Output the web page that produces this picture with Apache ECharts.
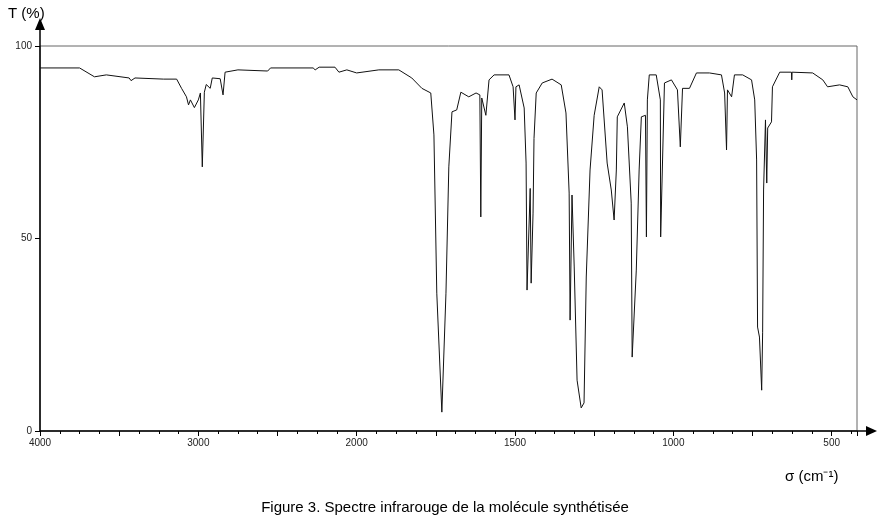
<!DOCTYPE html>
<html><head><meta charset="utf-8">
<script src="https://cdn.jsdelivr.net/npm/echarts@6/dist/echarts.min.js"></script>
<style>html,body{margin:0;padding:0;background:#fff}#c{width:890px;height:525px}</style>
</head><body><div id="c"></div>
<script>
// wavenumbers (cm-1) and transmittance (%)
const wavenumbers = [4000,3750,3656,3581,3437,3425,3400,3219,3137,3106,3075,3062,3050,3025,3000,2987,2975,2969,2962,2950,2925,2912,2862,2844,2831,2750,2562,2544,2275,2262,2237,2137,2112,2062,2000,
1930,1867,1826,1794,1766,1756,1747,1731,1718,1709,1699,1684,1671,1646,1623,1611,1608,1605,1592,1582,1566,1519,1506,1500,1497,1487,1471,1465,1462,1452,1449,1443,1440,1433,1414,1383,1354,1339,1329,1326,1320,1313,1304,1291,1282,1275,1263,1250,1234,1225,1209,1196,1187,1180,1177,1155,1145,1133,1130,1117,1108,1101,1088,1085,1082,1076,1054,1041,1040,1028,1006,987,978,971,949,927,
886,848,838,832,829,816,807,781,753,743,737,734,728,721,718,715,709,705,702,690,687,664,627,626,625,560,528,513,475,449,433,420];
const transmittance = [94.3,94.3,92,92.5,91.7,91,91.7,91.4,91.4,89,86.8,84.7,86,84,86,87.8,68.6,77.4,88,90,89,91.7,91.5,87.3,93.2,93.8,93.5,94.3,94.3,93.8,94.5,94.5,93.2,93.8,93,
93.8,93.8,91.7,89,87.8,76.9,35.8,4.9,35.8,68.6,82.9,83.4,88,86.8,87.8,87.3,55.6,86.5,82,91.2,92.5,92.5,89.4,80.8,89.4,89.9,83.9,69.6,36.6,63,38.4,56.6,76,87.8,90.4,91.4,89.9,82.6,61.8,28.8,61.3,42.6,13.2,6,7.3,40,67.8,82,89.4,88.6,69.6,62.6,54.8,67.8,81.6,85.2,79,59.2,19.2,41.8,67.8,81.6,82,50.4,86,92.5,92.5,86,50.4,90.4,91.2,88.6,73.8,89,89,93,
93,92.5,87.8,73,88.6,86.8,92.5,92.5,91.2,86,70.4,27,24.4,10.6,25.5,62.6,80.8,64.4,78.7,80.3,89.4,93.2,93.2,91.2,93.2,93,91.2,89.4,89.9,89.4,86.8,86];
const xTickLabels = ['4000','3000','2000','1500','1000','500'];
const yTickLabels = ['0','50','100'];

// scale change at 2000 cm-1 (expanded x2 below 2000)
const toU = w => w >= 2000 ? 4000 - w : 2000 + (2000 - w) * 2;
const fromU = u => u <= 2000 ? 4000 - u : 2000 - (u - 2000) / 2;
const data = wavenumbers.map((w, i) => [toU(w), transmittance[i]]);

const chart = echarts.init(document.getElementById('c'));
chart.setOption({
  animation: false,
  grid: {left: 40, right: 33, top: 46, bottom: 94, show: true, borderColor: '#666', borderWidth: 1},
  xAxis: {type: 'value', min: 0, max: toU(420), interval: 500,
    axisLine: {show: false}, splitLine: {show: false},
    axisTick: {show: true, length: 5, lineStyle: {color: '#000'}},
    minorTick: {show: true, splitNumber: 4, length: 3, lineStyle: {color: '#000'}},
    axisLabel: {fontSize: 10, color: '#222', fontFamily: 'Liberation Sans', margin: 7,
      formatter: v => { const s = String(Math.round(fromU(v))); return (v % 1000 === 0 && xTickLabels.includes(s)) ? s : ''; }}},
  yAxis: {type: 'value', min: 0, max: 100, interval: 50,
    axisLine: {show: false}, splitLine: {show: false},
    axisTick: {show: true, length: 5, inside: false, lineStyle: {color: '#000'}},
    axisLabel: {fontSize: 10, color: '#222', fontFamily: 'Liberation Sans', margin: 8,
      formatter: v => yTickLabels.includes(String(v)) ? String(v) : ''}},
  series: [{type: 'line', data: data, showSymbol: false, symbol: 'none',
    lineStyle: {color: '#111', width: 1}}],
  graphic: [
    {type: 'line', shape: {x1: 40, y1: 431, x2: 40, y2: 26}, style: {stroke: '#000', lineWidth: 1.5}},
    {type: 'polygon', shape: {points: [[35, 30], [45, 30], [40, 18]]}, style: {fill: '#000'}},
    {type: 'line', shape: {x1: 40, y1: 431, x2: 868, y2: 431}, style: {stroke: '#000', lineWidth: 1.5}},
    {type: 'polygon', shape: {points: [[866, 426], [866, 436], [877, 431]]}, style: {fill: '#000'}},
    {type: 'text', left: 8, top: 6, style: {text: 'T (%)', fontSize: 15, fill: '#000', fontFamily: 'Liberation Sans'}},
    {type: 'text', left: 785, top: 469, style: {text: 'σ (cm⁻¹)', fontSize: 15, fill: '#000', fontFamily: 'Liberation Sans'}},
    {type: 'text', left: 'center', top: 500, style: {text: 'Figure 3. Spectre infrarouge de la molécule synthétisée', fontSize: 15, fill: '#000', fontFamily: 'Liberation Sans'}}
  ]
});
</script></body></html>
